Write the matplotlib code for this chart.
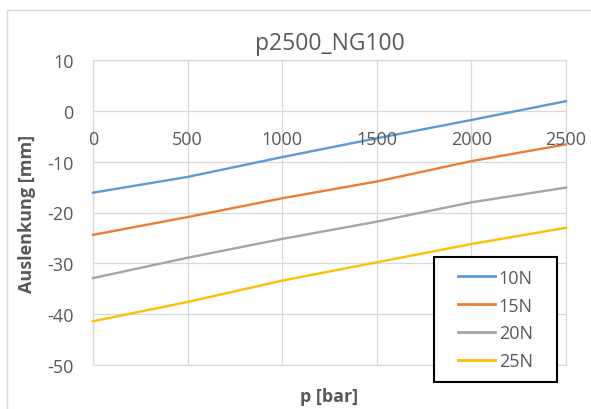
import matplotlib
matplotlib.use("Agg")
import matplotlib.pyplot as plt
from matplotlib.patches import Rectangle
from matplotlib.lines import Line2D

plt.rcParams['font.family'] = ['Open Sans', 'DejaVu Sans']
plt.rcParams['axes.unicode_minus'] = False

pressure = [0, 500, 1000, 1500, 2000, 2500]
s10N = [-16.1, -13.0, -9.1, -5.4, -1.8, 1.9]
s15N = [-24.4, -20.9, -17.2, -13.9, -9.9, -6.6]
s20N = [-32.9, -28.9, -25.2, -21.8, -18.0, -15.1]
s25N = [-41.4, -37.6, -33.4, -29.8, -26.2, -23.0]
series_names = ["10N", "15N", "20N", "25N"]
colors = ["#5B9BD5", "#ED7D31", "#A5A5A5", "#FFC000"]
xticks = [0, 500, 1000, 1500, 2000, 2500]
yticks = [10, 0, -10, -20, -30, -40, -50]

W, H = 591, 410
fig = plt.figure(figsize=(W / 100, H / 100), dpi=100)
ax = fig.add_axes([93 / W, 1 - 366 / H, (566 - 93) / W, (366 - 61) / H])

txt = "#595959"
grid = "#D9D9D9"

for ys, c, n in zip([s10N, s15N, s20N, s25N], colors, series_names):
    ax.plot(pressure, ys, color=c, lw=1.7, label=n, zorder=3, clip_on=False)

ax.set_xlim(0, 2500)
ax.set_ylim(-50, 10)
ax.set_xticks(xticks)
ax.set_yticks(yticks)
ax.set_xticklabels([])
ax.tick_params(length=0)
ax.tick_params(axis='y', labelsize=13, labelcolor=txt, pad=14)
ax.grid(True, color=grid, lw=0.9, zorder=0)
for s in ax.spines.values():
    s.set_color(grid)
    s.set_linewidth(0.9)

for xv in xticks:
    ax.annotate(str(xv), xy=(xv, 0), xytext=(0, -14), textcoords='offset points',
                ha='center', va='top', fontsize=13, color=txt, zorder=4,
                annotation_clip=False)

ax.set_title("p2500_NG100", fontsize=16.5, color=txt, pad=8)
ax.set_ylabel("Auslenkung [mm]", fontsize=13, color=txt, fontweight='bold', labelpad=8)
ax.set_xlabel("p [bar]", fontsize=13, color=txt, fontweight='bold', labelpad=12)

# chart border
fig.add_artist(Rectangle((7 / W, -0.2), 1.5, 1 - 11 / H + 0.2, transform=fig.transFigure,
                         fill=False, edgecolor="#D9D9D9", lw=1.0))

# legend box
bx0, bx1, by0, by1 = 434, 557, 258, 383
fig.add_artist(Rectangle((bx0 / W, 1 - by1 / H), (bx1 - bx0) / W, (by1 - by0) / H,
                         transform=fig.transFigure, facecolor='white',
                         edgecolor='black', lw=1.5, zorder=5))
handles = [Line2D([], [], color=c, lw=2) for c in colors]
leg = fig.legend(handles, series_names, loc='center',
                 bbox_to_anchor=((bx0 + bx1) / 2 / W, 1 - (by0 + by1) / 2 / H),
                 frameon=False, fontsize=13, handlelength=2.05, handletextpad=0.2,
                 labelspacing=0.55, borderpad=0)
for t in leg.get_texts():
    t.set_color(txt)
leg.set_zorder(6)

fig.savefig("out.png", dpi=100)
